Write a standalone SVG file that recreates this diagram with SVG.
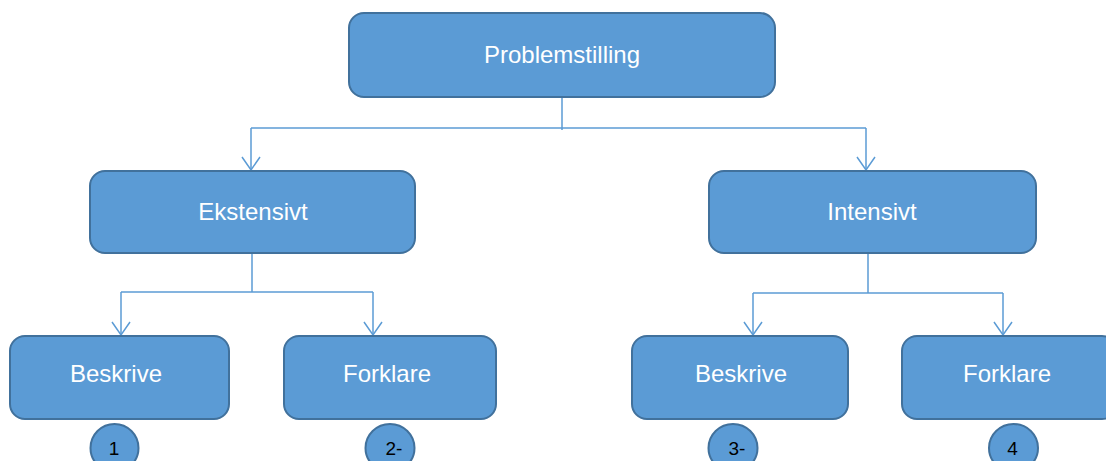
<svg xmlns="http://www.w3.org/2000/svg" width="1106" height="461" viewBox="0 0 1106 461">
<defs>
<style>
.box{fill:#5b9bd5;stroke:#41719c;stroke-width:2}
.lbl{fill:#ffffff;font-family:"Liberation Sans",Arial,sans-serif;font-size:24px;text-anchor:middle}
.num{fill:#000000;font-family:"Liberation Sans Narrow","Liberation Sans",sans-serif;font-size:19px;text-anchor:middle}
.con{fill:none;stroke:#5b9bd5;stroke-width:1.5}
</style>
<marker id="arr" viewBox="0 0 20 20" refX="18" refY="10" markerWidth="20" markerHeight="20" markerUnits="userSpaceOnUse" orient="auto">
<path d="M5,1 L18,10 L5,19" fill="none" stroke="#5b9bd5" stroke-width="1.5"/>
</marker>
</defs>
<rect width="1106" height="461" fill="#ffffff"/>
<g id="connectors">
<path class="con" d="M562,97 V130"/>
<path class="con" d="M251,128 H866"/>
<path class="con" d="M251,128 V170" marker-end="url(#arr)"/>
<path class="con" d="M866,128 V170" marker-end="url(#arr)"/>
<path class="con" d="M252,253 V292"/>
<path class="con" d="M121,292 H373"/>
<path class="con" d="M121,292 V335" marker-end="url(#arr)"/>
<path class="con" d="M373,292 V335" marker-end="url(#arr)"/>
<path class="con" d="M868,253 V293"/>
<path class="con" d="M753,293 H1003"/>
<path class="con" d="M753,293 V335" marker-end="url(#arr)"/>
<path class="con" d="M1003,293 V335" marker-end="url(#arr)"/>
</g>
<g id="problemstilling">
<rect class="box" x="349" y="13" width="426" height="84" rx="15"/>
<text class="lbl" x="562" y="63">Problemstilling</text>
</g>
<g id="ekstensivt">
<rect class="box" x="90" y="171" width="325" height="82" rx="15"/>
<text class="lbl" x="253" y="220">Ekstensivt</text>
</g>
<g id="intensivt">
<rect class="box" x="709" y="171" width="327" height="82" rx="15"/>
<text class="lbl" x="872" y="220">Intensivt</text>
</g>
<g id="beskrive1">
<rect class="box" x="10" y="336" width="219" height="83" rx="15"/>
<text class="lbl" x="116" y="382">Beskrive</text>
</g>
<g id="forklare1">
<rect class="box" x="284" y="336" width="212" height="83" rx="15"/>
<text class="lbl" x="387" y="382">Forklare</text>
</g>
<g id="beskrive2">
<rect class="box" x="632" y="336" width="216" height="83" rx="15"/>
<text class="lbl" x="741" y="382">Beskrive</text>
</g>
<g id="forklare2">
<rect class="box" x="902" y="336" width="215" height="83" rx="15"/>
<text class="lbl" x="1007" y="382">Forklare</text>
</g>
<g id="n1">
<ellipse class="box" cx="114.5" cy="448" rx="24" ry="24"/>
<text class="num" x="114" y="455">1</text>
</g>
<g id="n2">
<ellipse class="box" cx="390" cy="448" rx="24.5" ry="24"/>
<text class="num" x="394" y="455">2-</text>
</g>
<g id="n3">
<ellipse class="box" cx="733" cy="448" rx="24.5" ry="24"/>
<text class="num" x="737" y="455">3-</text>
</g>
<g id="n4">
<ellipse class="box" cx="1013.5" cy="448" rx="24.5" ry="24"/>
<text class="num" x="1012.5" y="455">4</text>
</g>
</svg>
